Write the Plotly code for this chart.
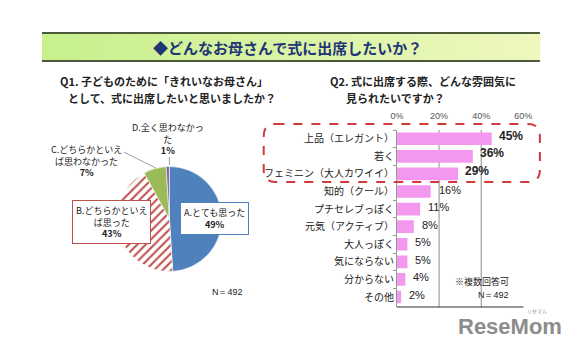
import plotly.graph_objects as go

W, H = 580, 350
def px(x): return x / W
def py(y): return 1 - y / H

FONT = "Noto Sans CJK JP"

# ---- Data ----
pie_labels = ["A.とても思った", "B.どちらかといえば思った", "C.どちらかといえば思わなかった", "D.全く思わなかった"]
pie_values = [49, 43, 7, 1]
pie_colors = ["#4f81bd", "#ffffff", "#9bbb59", "#8064a2"]

bar_categories = ["上品（エレガント）", "若く", "フェミニン（大人カワイイ）", "知的（クール）",
                  "プチセレブっぽく", "元気（アクティブ）", "大人っぽく", "気にならない",
                  "分からない", "その他"]
bar_values = [45, 36, 29, 16, 11, 8, 5, 5, 4, 2]
bar_ticks = [0, 20, 40, 60]

fig = go.Figure()

# ---- Pie ----
cx, cy, r = 167, 219, 54
fig.add_trace(go.Pie(
    labels=pie_labels, values=pie_values, sort=False, direction="clockwise",
    rotation=0, textinfo="none", showlegend=False, hoverinfo="label+percent",
    marker=dict(colors=pie_colors, line=dict(color="white", width=0.6),
                pattern=dict(shape=["", "/", "", ""], fgcolor="#c0504d",
                             bgcolor="white", size=6, solidity=0.35)),
    domain=dict(x=[px(cx - r), px(cx + r)], y=[py(cy + r), py(cy - r)]),
))

# ---- Bars ----
fig.add_trace(go.Bar(
    x=bar_values, y=bar_categories, orientation="h",
    marker=dict(color="#f498ef", line=dict(width=0)), width=0.72,
    showlegend=False, xaxis="x", yaxis="y",
))

x0p, x1p = 401, 531
y0p, y1p = 130, 307
fig.update_layout(
    width=W, height=H, margin=dict(l=0, r=0, t=0, b=0),
    paper_bgcolor="white", plot_bgcolor="white",
    font=dict(family=FONT, color="#222222"),
    xaxis=dict(domain=[px(x0p), px(x1p)], range=[0, 60], side="top",
               tickvals=bar_ticks, ticktext=[f"{v}%" for v in bar_ticks],
               tickfont=dict(size=9, color="#555555", family="Liberation Sans"),
               showgrid=False, zeroline=False, showline=False,
               ticks="outside", ticklen=6, tickcolor="rgba(0,0,0,0)"),
    yaxis=dict(domain=[py(y1p), py(y0p)], autorange="reversed",
               tickfont=dict(size=10, color="#222222"),
               showline=True, linecolor="#999999", linewidth=1,
               ticks="outside", ticklen=3, tickcolor="#999999", tickson="boundaries",
               showgrid=False, zeroline=False),
    bargap=0.28,
)

shapes = []
# banner gradient strips
bx0, bx1, by0, by1 = 36, 548, 33, 61
n = 40
c0 = (200, 240, 140)
c1 = (238, 248, 190)
for i in range(n):
    t = i / (n - 1)
    c = tuple(int(c0[k] + (c1[k] - c0[k]) * t) for k in range(3))
    xa = bx0 + (bx1 - bx0) * i / n
    xb = bx0 + (bx1 - bx0) * (i + 1) / n + 0.5
    shapes.append(dict(type="rect", xref="paper", yref="paper",
                       x0=px(xa), x1=px(xb), y0=py(by1), y1=py(by0),
                       fillcolor="rgb(%d,%d,%d)" % c, line=dict(width=0), layer="below"))
for yy in (by0, by1):
    shapes.append(dict(type="line", xref="paper", yref="paper", x0=px(bx0), x1=px(bx1),
                       y0=py(yy), y1=py(yy), line=dict(color="#4a5a3a", width=2)))

# bar grid lines at 20 and 40
for gv in bar_ticks[1:3]:
    shapes.append(dict(type="line", xref="x", yref="paper", x0=gv, x1=gv,
                       y0=py(y1p), y1=py(y0p), line=dict(color="#8c8c8c", width=1), layer="below"))
# bottom axis line
shapes.append(dict(type="line", xref="paper", yref="paper", x0=px(x0p), x1=px(x1p),
                   y0=py(y1p), y1=py(y1p), line=dict(color="#333333", width=1)))

# red dashed rounded rectangle
rx0, rx1, ry0, ry1, rr = 264, 548, 124, 182, 12
def P(x, y): return f"{px(x)},{py(y)}"
path = (f"M {P(rx0 + rr, ry0)} L {P(rx1 - rr, ry0)} Q {P(rx1, ry0)} {P(rx1, ry0 + rr)} "
        f"L {P(rx1, ry1 - rr)} Q {P(rx1, ry1)} {P(rx1 - rr, ry1)} "
        f"L {P(rx0 + rr, ry1)} Q {P(rx0, ry1)} {P(rx0, ry1 - rr)} "
        f"L {P(rx0, ry0 + rr)} Q {P(rx0, ry0)} {P(rx0 + rr, ry0)} Z")
shapes.append(dict(type="path", xref="paper", yref="paper", path=path,
                   line=dict(color="#d03a3a", width=2, dash="dash")))

# pie leader lines
shapes.append(dict(type="line", xref="paper", yref="paper", x0=px(120), y0=py(152),
                   x1=px(153), y1=py(168), line=dict(color="#888888", width=0.8)))
shapes.append(dict(type="line", xref="paper", yref="paper", x0=px(167), y0=py(157),
                   x1=px(167), y1=py(165), line=dict(color="#888888", width=0.8)))
fig.update_layout(shapes=shapes)

ann = []
def A(x, y, text, size=10, color="#222222", bold=False, xanchor="center", **kw):
    t = f"<b>{text}</b>" if bold else text
    d = dict(xref="paper", yref="paper", x=px(x), y=py(y), text=t, showarrow=False,
             xanchor=xanchor, yanchor="middle", font=dict(size=size, color=color, family=kw.pop("family", FONT)))
    d.update(kw)
    ann.append(d)

A(288, 47, "◆どんなお母さんで式に出席したいか？", size=15, color="#1f3576", bold=True)
A(52, 81, "Q1. 子どものために「きれいなお母さん」", size=11, bold=True, xanchor="left")
A(61, 98, "として、式に出席したいと思いましたか？", size=11, bold=True, xanchor="left")
A(330, 81, "Q2. 式に出席する際、どんな雰囲気に", size=11, bold=True, xanchor="left")
A(347, 98, "見られたいですか？", size=11, bold=True, xanchor="left")

# pie labels
A(213, 219, "A.とても思った<br><b>49%</b>", size=9, bordercolor="#4f81bd", borderwidth=1,
  bgcolor="white", borderpad=3)
A(107, 222, "B.どちらかといえ<br>ば思った<br><b>43%</b>", size=9, bordercolor="#c0504d",
  borderwidth=1, bgcolor="white", borderpad=3)
A(82, 161, "C.どちらかといえ<br>ば思わなかった<br><b>7%</b>", size=9)
A(166, 139, "D.全く思わなかっ<br>た<br><b>1%</b>", size=9)
A(227, 292, "N＝492", size=9, family="Liberation Sans")

# bar value labels
for i, (cat, v) in enumerate(zip(bar_categories, bar_values)):
    big = i < 3
    ann.append(dict(xref="x", yref="y", x=v, y=cat, text=(f"<b>{v}%</b>" if big else f"{v}%"),
                    showarrow=False, xanchor="left", yanchor="middle",
                    xshift=5 if big else 6, yshift=3 if big else 2,
                    font=dict(size=12 if big else 11, color="#222222", family="Liberation Sans")))

A(518, 281, "※複数回答可", size=9, xanchor="right")
A(518, 295, "N＝492", size=9, xanchor="right", family="Liberation Sans")
A(517, 326, "ReseMom", size=22, color="#8c8c8c", bold=True, family="Liberation Sans")
A(545, 311, "リセマム", size=5, color="#8c8c8c")

fig.update_layout(annotations=ann)
fig.write_html("out.html")
